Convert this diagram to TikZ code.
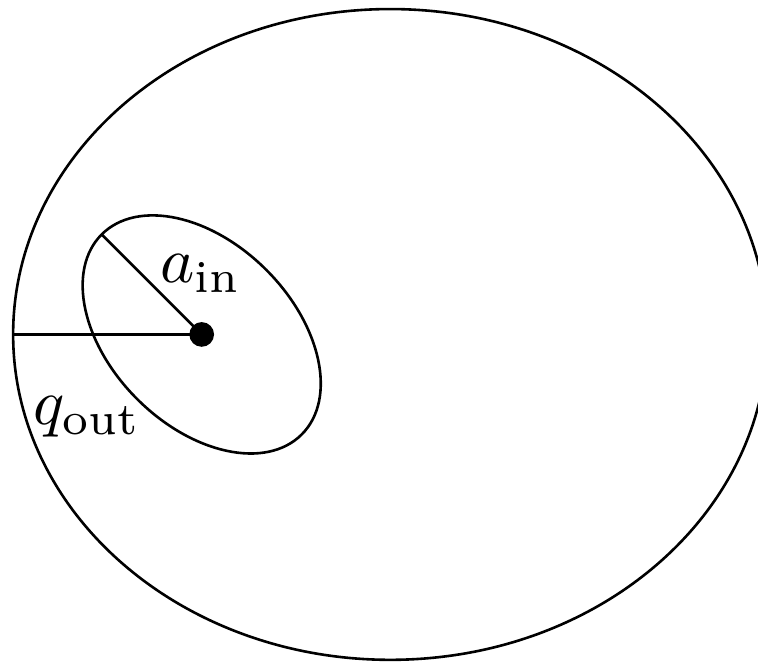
\documentclass[tikz,border=0pt]{standalone}
\usepackage{amsmath,amssymb}
\usepackage{tikz}

\begin{document}
\begin{tikzpicture}
\useasboundingbox (-1.091,-1.771) rectangle (3.009,1.809);
\coordinate (focus) at (0,0);
\coordinate (peri) at (-1.02,0);
\coordinate (semi) at (135:0.765);
\draw (1.02,0) ellipse [x radius=2.04, y radius=1.76];
\draw[rotate=-45] (focus) ellipse [x radius=0.765, y radius=0.494];
\draw (focus) -- (peri);
\draw (focus) -- (semi);
\node[circle, fill=black, inner sep=0pt, minimum size=3.8pt] (dot) at (focus) {};
\node[anchor=base] (ain) at (-0.006,0.279) {$a_{\text{in}}$};
\node[anchor=base] (qout) at (-0.62,-0.489) {$q_{\text{out}}$};
\end{tikzpicture}
\end{document}
